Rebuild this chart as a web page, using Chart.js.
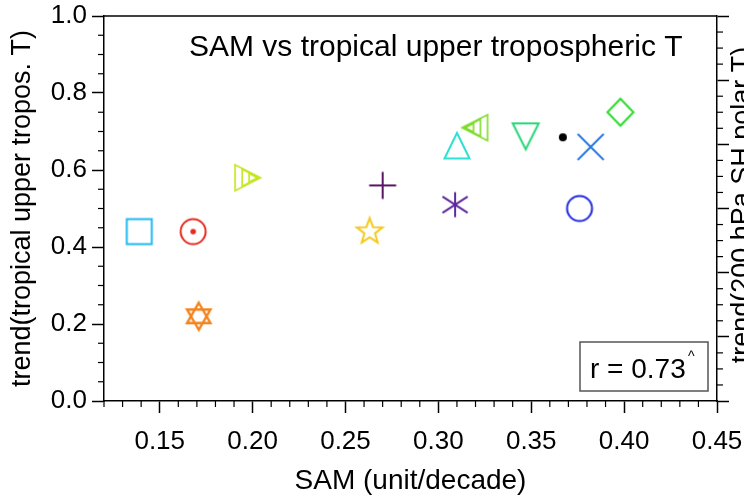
<!DOCTYPE html>
<html><head><meta charset="utf-8">
<script src="https://cdn.jsdelivr.net/npm/chart.js@4.4.1/dist/chart.umd.min.js"></script>
<style>html,body{margin:0;padding:0;background:#fff;overflow:hidden}</style>
</head><body>
<div style="width:744px;height:498px;overflow:hidden;position:relative">
<canvas id="c" width="744" height="498"></canvas></div>
<script>
// ---- data ----
const samTrend  = [0.139, 0.168, 0.171, 0.197, 0.263, 0.270, 0.309, 0.310, 0.320, 0.347, 0.367, 0.382, 0.398, 0.376];
const tropTrend = [0.44, 0.44, 0.22, 0.58, 0.44, 0.56, 0.51, 0.66, 0.71, 0.69, 0.685, 0.66, 0.75, 0.50];
const markerKinds = ['square','circleDot','hexagram','triRight3','star5','plus','asterisk','triUp','triLeft3','triDown','dot','x','diamond','circle'];
const markerColors = ['#1eb9f0','#e62a1e','#f5821a','#c3e61e','#f5c81e','#5a1464','#5f28a0','#2ae1d2','#7ddc28','#28d778','#000000','#2878e1','#28dc28','#1e28dc'];
const xTickValues = [0.15, 0.20, 0.25, 0.30, 0.35, 0.40, 0.45];
const xTickLabels = ['0.15','0.20','0.25','0.30','0.35','0.40','0.45'];
const yTickValues = [0.0, 0.2, 0.4, 0.6, 0.8, 1.0];
const yTickLabels = ['0.0','0.2','0.4','0.6','0.8','1.0'];
const y2TickValues = [0.0, 0.2, 0.4, 0.6, 0.8, 1.0, 1.2];
const titleText = 'SAM vs tropical upper tropospheric T';
const xTitle = 'SAM (unit/decade)';
const yTitle = 'trend(tropical upper tropos. T)';
const y2Title = 'trend(200 hPa SH polar T)';
const corrText = 'r = 0.73';
const corrMark = '^';

const FAM = '"Liberation Sans", Arial, Helvetica, sans-serif';

function makeMarker(kind, color){
  const S = 34, c = S/2;
  const cv = document.createElement('canvas'); cv.width = S; cv.height = S;
  const g = cv.getContext('2d');
  g.strokeStyle = color; g.fillStyle = color; g.lineWidth = 2; g.lineJoin = 'miter';
  const poly = (pts) => { g.beginPath(); pts.forEach((p,i)=> i? g.lineTo(c+p[0], c+p[1]) : g.moveTo(c+p[0], c+p[1])); g.closePath(); g.stroke(); };
  const line = (a,b,d,e) => { g.beginPath(); g.moveTo(c+a,c+b); g.lineTo(c+d,c+e); g.stroke(); };
  switch(kind){
    case 'square': poly([[-12.5,-12.5],[12.5,-12.5],[12.5,12.5],[-12.5,12.5]]); break;
    case 'circle': g.beginPath(); g.arc(c,c,12.5,0,Math.PI*2); g.stroke(); break;
    case 'circleDot': g.beginPath(); g.arc(c,c,12.5,0,Math.PI*2); g.stroke();
      g.beginPath(); g.arc(c,c,2.8,0,Math.PI*2); g.fill(); break;
    case 'dot': g.beginPath(); g.arc(c,c,4,0,Math.PI*2); g.fill(); break;
    case 'hexagram': {
      const R = 13.5, up = [], dn = [];
      for (let k=0;k<3;k++){ const a1 = -Math.PI/2 + k*2*Math.PI/3, a2 = Math.PI/2 + k*2*Math.PI/3;
        up.push([R*Math.cos(a1), R*Math.sin(a1)]); dn.push([R*Math.cos(a2), R*Math.sin(a2)]); }
      g.lineWidth = 2.4; poly(up); poly(dn); break; }
    case 'star5': {
      const pts = []; for (let k=0;k<10;k++){ const r = k%2 ? 5.6 : 13.5; const a = -Math.PI/2 + k*Math.PI/5; pts.push([r*Math.cos(a), r*Math.sin(a)]); }
      poly(pts); break; }
    case 'plus': line(-13.5,0,13.5,0); line(0,-13.5,0,13.5); break;
    case 'x': line(-13,-13,13,13); line(-13,13,13,-13); break;
    case 'asterisk': { line(0,-12.5,0,12.5); const a = 33*Math.PI/180, r = 15;
      line(-r*Math.cos(a),-r*Math.sin(a), r*Math.cos(a), r*Math.sin(a));
      line(-r*Math.cos(a), r*Math.sin(a), r*Math.cos(a),-r*Math.sin(a)); break; }
    case 'triUp': poly([[0,-14],[12.5,11.5],[-12.5,11.5]]); break;
    case 'triDown': poly([[-13,-12],[13,-12],[0,14]]); break;
    case 'diamond': poly([[0,-13.5],[13,0],[0,13.5],[-13,0]]); break;
    case 'triRight3':
    case 'triLeft3': {
      const s = kind === 'triRight3' ? 1 : -1;
      g.lineWidth = 1.6;
      const base = [[13.5,0],[-12,-13],[-12,13]];
      const cx = 9;
      [1, 0.66, 0.33].forEach(f => {
        poly(base.map(p => [s*(cx + (p[0]-cx)*f), p[1]*f]));
      });
      break; }
  }
  return cv;
}
const markerImages = markerKinds.map((k,i)=> makeMarker(k, markerColors[i]));

const decor = {
  id: 'decor',
  afterDraw(chart){
    const g = chart.ctx, a = chart.chartArea;
    const sx = chart.scales.x, sy = chart.scales.y, sy2 = chart.scales.y2;
    g.save();
    g.strokeStyle = '#000'; g.lineWidth = 1.5;
    // top frame
    g.beginPath(); g.moveTo(a.left, a.top); g.lineTo(a.right, a.top); g.stroke();
    // minor ticks
    g.lineWidth = 1.2;
    for (let i = 12; i <= 45; i++){ if (i % 5 === 0) continue;
      const px = sx.getPixelForValue(i/100);
      g.beginPath(); g.moveTo(px, a.bottom); g.lineTo(px, a.bottom + 6); g.stroke(); }
    for (let i = 0; i <= 20; i++){ if (i % 4 === 0) continue;
      const py = sy.getPixelForValue(i*0.05);
      g.beginPath(); g.moveTo(a.left, py); g.lineTo(a.left - 6, py); g.stroke(); }
    for (let i = 0; i <= 24; i++){ if (i % 4 === 0) continue;
      const py = sy2.getPixelForValue(i*0.05);
      g.beginPath(); g.moveTo(a.right, py); g.lineTo(a.right + 6, py); g.stroke(); }
    // title inside plot
    g.fillStyle = '#000'; g.font = '30px ' + FAM; g.textBaseline = 'alphabetic'; g.textAlign = 'left';
    g.fillText(titleText, 189, 56);
    // right axis title (rotated, reading bottom to top)
    g.save(); g.translate(743, 205); g.rotate(-Math.PI/2);
    g.font = '27px ' + FAM; g.textAlign = 'center'; g.textBaseline = 'middle';
    g.fillText(y2Title, 0, 0); g.restore();
    // correlation box
    g.strokeStyle = '#555'; g.lineWidth = 1.5;
    g.strokeRect(580, 342, 128, 49);
    g.font = '28px ' + FAM; g.textAlign = 'left'; g.textBaseline = 'alphabetic';
    g.fillText(corrText, 590, 378);
    g.font = '14px ' + FAM; g.fillText(corrMark, 688, 361);
    g.restore();
  }
};

const zeroPad = s => { s.paddingLeft = 0; s.paddingRight = 0; s.paddingTop = 0; s.paddingBottom = 0; };

new Chart(document.getElementById('c'), {
  type: 'scatter',
  data: { datasets: [{
    data: samTrend.map((x,i)=>({x, y: tropTrend[i]})),
    pointStyle: markerImages, pointRadius: 13, pointHoverRadius: 13
  }]},
  options: {
    responsive: false, devicePixelRatio: 1, animation: false, events: [],
    layout: { padding: { top: 16, left: 0, right: 0, bottom: 0 } },
    plugins: { legend: { display: false }, tooltip: { enabled: false } },
    scales: {
      x: {
        type: 'linear', position: 'bottom', min: 0.12, max: 0.45,
        afterBuildTicks: s => { s.ticks = xTickValues.map(v => ({ value: v })); },
        afterFit: s => { s.height = 97; zeroPad(s); },
        ticks: { callback: (v, i) => xTickLabels[i], color: '#000', font: { family: FAM, size: 26 }, padding: 13, maxRotation: 0, autoSkip: false },
        grid: { drawOnChartArea: false, drawTicks: true, tickLength: 12, tickColor: '#000', tickWidth: 1.5 },
        border: { display: true, color: '#000', width: 1.5 },
        title: { display: true, text: xTitle, color: '#000', font: { family: FAM, size: 28 }, padding: { top: 0, bottom: 0 } }
      },
      y: {
        type: 'linear', position: 'left', min: 0, max: 1.0,
        afterBuildTicks: s => { s.ticks = yTickValues.map(v => ({ value: v })); },
        afterFit: s => { s.width = 104; zeroPad(s); },
        ticks: { callback: (v, i) => yTickLabels[i], color: '#000', font: { family: FAM, size: 26 }, padding: 5, autoSkip: false },
        grid: { drawOnChartArea: false, drawTicks: true, tickLength: 12, tickColor: '#000', tickWidth: 1.5 },
        border: { display: true, color: '#000', width: 1.5 },
        title: { display: true, text: yTitle, color: '#000', font: { family: FAM, size: 27 }, padding: { top: 6, bottom: 0 } }
      },
      y2: {
        type: 'linear', position: 'right', min: 0, max: 1.2,
        afterBuildTicks: s => { s.ticks = y2TickValues.map(v => ({ value: v })); },
        afterFit: s => { s.width = 27; zeroPad(s); },
        ticks: { callback: () => '', padding: 0 },
        grid: { drawOnChartArea: false, drawTicks: true, tickLength: 12, tickColor: '#000', tickWidth: 1.5 },
        border: { display: true, color: '#000', width: 1.5 }
      }
    }
  },
  plugins: [decor]
});
</script>
</body></html>
